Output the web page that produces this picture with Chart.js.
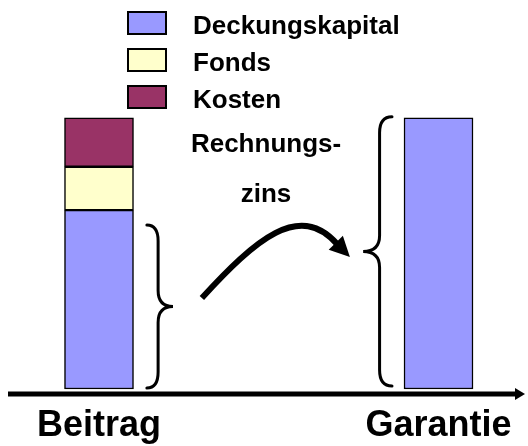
<!DOCTYPE html>
<html><head><meta charset="utf-8">
<script src="https://cdn.jsdelivr.net/npm/chart.js@4/dist/chart.umd.min.js"></script>
<style>html,body{margin:0;padding:0;background:#fff}#wrap{width:528px;height:446px;position:relative}</style>
</head><body><div id="wrap"><canvas id="c"></canvas></div>
<script>
const categories = ['Beitrag', 'Garantie'];
const categoryPositions = [0, 1];
const seriesNames = ['Deckungskapital', 'Fonds', 'Kosten'];
const deckungskapital = [66, 100];
const fonds = [16, null];
const kosten = [18, null];
const seriesValues = [deckungskapital, fonds, kosten];
const seriesColors = ['#9999FF', '#FFFFCC', '#993366'];
const noteLines = ['Rechnungs-', 'zins'];

const FONT = '"Liberation Sans", Arial, Helvetica, sans-serif';

// annotation geometry in data units (x: category position, y: value)
const deco = {
  braces: [
    {xEnd: 0.141, xTip: 0.218, yFrom: 0.4, yTo: 60.5},
    {xEnd: 0.863, xTip: 0.778, yFrom: 1.1, yTo: 100.4}
  ],
  arrowCurve: [[0.303, 33.6], [0.460, 55.0], [0.592, 69.7], [0.704, 53.1]],
  arrowTip: [0.739, 48.7],
  noteX: 0.492,
  noteY: [87.5, 69.0]
};

function toPoints(values) {
  return values.map((v, i) => ({x: categoryPositions[i], y: v}));
}

const decorPlugin = {
  id: 'decor',
  afterDraw(chart) {
    const ctx = chart.ctx;
    const xs = chart.scales.x, ys = chart.scales.y;
    const px = v => xs.getPixelForValue(v);
    const py = v => ys.getPixelForValue(v);
    const area = chart.chartArea;
    ctx.save();

    // legend
    chart.data.datasets.forEach((ds, i) => {
      const bx = 128, by = 12 + i * 37, bw = 38, bh = 22;
      ctx.fillStyle = ds.backgroundColor;
      ctx.fillRect(bx, by, bw, bh);
      ctx.strokeStyle = '#000';
      ctx.lineWidth = 2;
      ctx.strokeRect(bx, by, bw, bh);
      ctx.fillStyle = '#000';
      ctx.font = 'bold 26px ' + FONT;
      ctx.textAlign = 'left';
      ctx.textBaseline = 'alphabetic';
      ctx.fillText(ds.label, 193, by + 22);
    });

    // axis line with arrow
    const ay = area.bottom + 5;
    ctx.strokeStyle = '#000';
    ctx.lineWidth = 5;
    ctx.beginPath();
    ctx.moveTo(8, ay);
    ctx.lineTo(517, ay);
    ctx.stroke();
    ctx.fillStyle = '#000';
    ctx.beginPath();
    ctx.moveTo(515, ay - 6);
    ctx.lineTo(525, ay);
    ctx.lineTo(515, ay + 6);
    ctx.closePath();
    ctx.fill();

    // braces
    ctx.lineWidth = 3;
    ctx.lineCap = 'round';
    deco.braces.forEach(b => {
      const xe = px(b.xEnd), xt = px(b.xTip);
      const xs2 = (xe + xt) / 2 - (xt - xe) * 0.07;
      const yt = py(b.yTo), yb = py(b.yFrom), ym = (yt + yb) / 2;
      const r = 16;
      ctx.beginPath();
      ctx.moveTo(xe, yt);
      ctx.quadraticCurveTo(xs2, yt, xs2, yt + r);
      ctx.lineTo(xs2, ym - r);
      ctx.quadraticCurveTo(xs2, ym, xt, ym);
      ctx.quadraticCurveTo(xs2, ym, xs2, ym + r);
      ctx.lineTo(xs2, yb - r);
      ctx.quadraticCurveTo(xs2, yb, xe, yb);
      ctx.stroke();
    });

    // curved arrow
    const c = deco.arrowCurve.map(p => [px(p[0]), py(p[1])]);
    ctx.lineWidth = 6;
    ctx.lineCap = 'butt';
    ctx.beginPath();
    ctx.moveTo(c[0][0], c[0][1]);
    ctx.bezierCurveTo(c[1][0], c[1][1], c[2][0], c[2][1], c[3][0], c[3][1]);
    ctx.stroke();
    const tip = [px(deco.arrowTip[0]), py(deco.arrowTip[1])];
    const dx = tip[0] - c[3][0], dy = tip[1] - c[3][1];
    const len = Math.hypot(dx, dy);
    const ux = dx / len, uy = dy / len;
    const hl = 20, hw = 10;
    const bxp = tip[0] - ux * hl, byp = tip[1] - uy * hl;
    ctx.beginPath();
    ctx.moveTo(tip[0], tip[1]);
    ctx.lineTo(bxp - uy * hw, byp + ux * hw);
    ctx.lineTo(bxp + uy * hw, byp - ux * hw);
    ctx.closePath();
    ctx.fill();

    // note text
    ctx.font = 'bold 26px ' + FONT;
    ctx.textAlign = 'center';
    ctx.textBaseline = 'alphabetic';
    noteLines.forEach((t, i) => ctx.fillText(t, px(deco.noteX), py(deco.noteY[i])));
    ctx.restore();
  }
};

new Chart(document.getElementById('c'), {
  type: 'bar',
  data: {
    datasets: seriesNames.map((n, i) => ({
      label: n,
      data: toPoints(seriesValues[i]),
      backgroundColor: seriesColors[i],
      borderColor: '#000',
      borderWidth: 1.5,
      borderSkipped: false,
      barThickness: 69,
      clip: false
    }))
  },
  options: {
    responsive: true,
    maintainAspectRatio: false,
    animation: false,
    layout: {padding: 0},
    plugins: {legend: {display: false}, tooltip: {enabled: false}},
    scales: {
      x: {
        type: 'linear', stacked: true, min: -0.2916, max: 1.2636,
        offset: false, bounds: 'data',
        grid: {display: false, drawTicks: false, offset: false},
        border: {display: false},
        afterBuildTicks: s => { s.ticks = categoryPositions.map(v => ({value: v})); },
        afterFit: s => { s.height = 57; },
        ticks: {
          autoSkip: false, maxRotation: 0, padding: 15, color: '#000',
          font: {family: FONT, size: 36, weight: 'bold'},
          callback: v => { const k = categoryPositions.indexOf(v); return k >= 0 ? categories[k] : ''; }
        }
      },
      y: {display: false, stacked: true, min: 0, max: 143.5}
    }
  },
  plugins: [decorPlugin]
});
</script>
</body></html>
